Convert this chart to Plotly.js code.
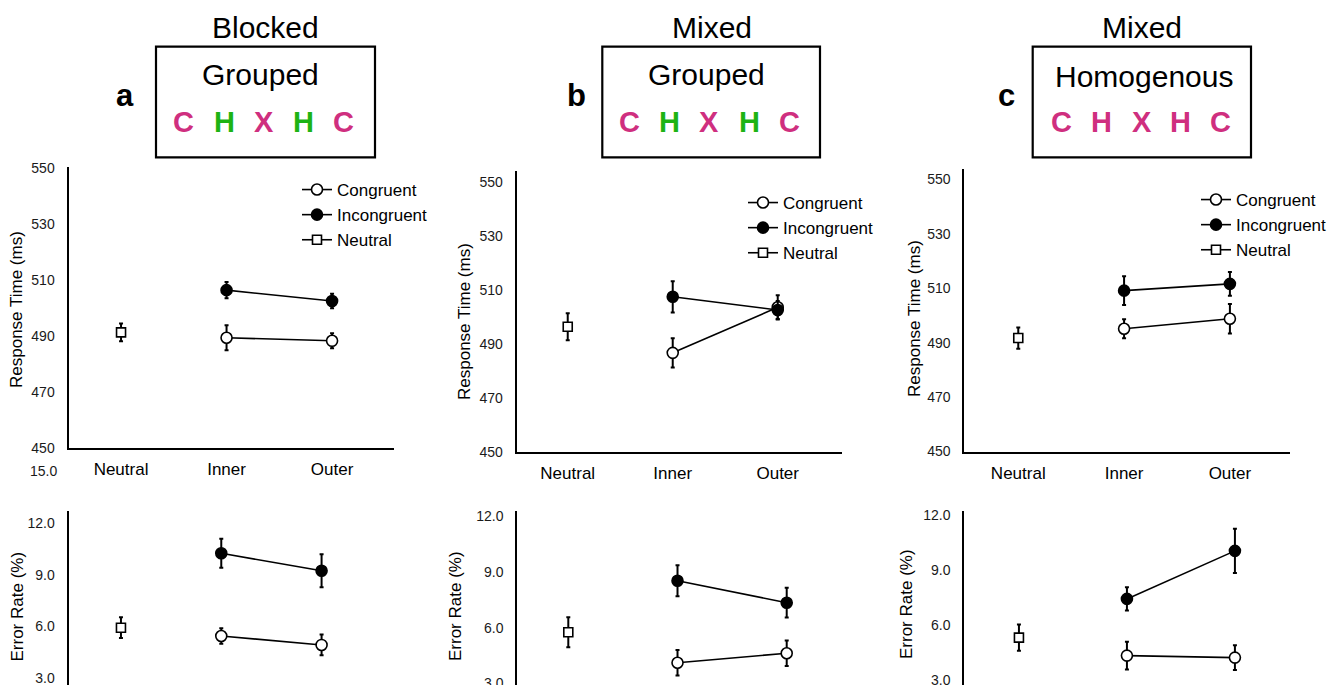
<!DOCTYPE html>
<html>
<head>
<meta charset="utf-8">
<script src="https://cdn.plot.ly/plotly-3.0.1.min.js"></script>
<style>html,body{margin:0;padding:0;background:#fff;}#chart{width:1338px;height:685px;}</style>
</head>
<body>
<div id="chart"></div>
<script>
// ---------------- DATA ----------------
const categories = ['Neutral', 'Inner', 'Outer'];
const flankerCats = ['Inner', 'Outer'];
const neutralCat = ['Neutral'];
const seriesNames = ['Congruent', 'Incongruent', 'Neutral'];

const panelLabels = ['a', 'b', 'c'];
const blockTitles = ['Blocked', 'Mixed', 'Mixed'];
const boxTitles = ['Grouped', 'Grouped', 'Homogenous'];
const stimLetters = ['C', 'H', 'X', 'H', 'C'];
const stimColorsA = ['m', 'g', 'm', 'g', 'm'];
const stimColorsB = ['m', 'g', 'm', 'g', 'm'];
const stimColorsC = ['m', 'm', 'm', 'm', 'm'];

const rtTicks = [450, 470, 490, 510, 530, 550];
const erTicks = [3, 6, 9, 12];

// Panel a (Blocked, Grouped)
const rtA_cong = [489.4, 488.3], rtA_cong_err = [4.5, 2.7];
const rtA_incong = [506.4, 502.5], rtA_incong_err = [2.9, 2.6];
const rtA_neut = [491.3], rtA_neut_err = [3.2];
const erA_cong = [5.44, 4.92], erA_cong_err = [0.45, 0.6];
const erA_incong = [10.24, 9.23], erA_incong_err = [0.84, 0.96];
const erA_neut = [5.92], erA_neut_err = [0.6];

// Panel b (Mixed, Grouped)
const rtB_cong = [486.8, 503.7], rtB_cong_err = [5.4, 4.5];
const rtB_incong = [507.6, 502.7], rtB_incong_err = [5.8, 3.3];
const rtB_neut = [496.5], rtB_neut_err = [5.0];
const erB_cong = [4.11, 4.62], erB_cong_err = [0.68, 0.68];
const erB_incong = [8.52, 7.34], erB_incong_err = [0.83, 0.8];
const erB_neut = [5.75], erB_neut_err = [0.8];

// Panel c (Mixed, Homogenous)
const rtC_cong = [495.1, 498.8], rtC_cong_err = [3.5, 5.4];
const rtC_incong = [509.1, 511.6], rtC_incong_err = [5.3, 4.4];
const rtC_neut = [491.7], rtC_neut_err = [3.9];
const erC_cong = [4.33, 4.22], erC_cong_err = [0.76, 0.67];
const erC_incong = [7.42, 10.04], erC_incong_err = [0.63, 1.2];
const erC_neut = [5.31], erC_neut_err = [0.72];

// ---------------- STYLE / LAYOUT ----------------
const W = 1338, H = 685;
const FONT = 'Liberation Sans, Arial, Helvetica, sans-serif';
const MAG = '#cf2f7f', GRN = '#1db314';
const px = v => v / W;
const py = v => 1 - v / H;

function errObj(arr) {
  return {type: 'data', array: arr, visible: true, color: '#000', thickness: 2, width: 2};
}
function mk(xs, ys, err, name, xa, ya, legendId, show) {
  const isCong = name === 'Congruent', isNeut = name === 'Neutral';
  return {
    type: 'scatter', mode: 'lines+markers', x: xs, y: ys, name: name,
    xaxis: xa, yaxis: ya, legend: legendId, showlegend: show, legendgroup: name + legendId,
    line: {color: '#000', width: 1.6},
    marker: {
      symbol: isNeut ? 'square' : 'circle',
      size: isNeut ? 9 : 11,
      color: isCong || isNeut ? '#fff' : '#000',
      line: {color: '#000', width: 1.6}
    },
    error_y: errObj(err),
    cliponaxis: false,
    hoverinfo: 'x+y'
  };
}

const panelsData = [
  {rt: [rtA_cong, rtA_incong, rtA_neut], rte: [rtA_cong_err, rtA_incong_err, rtA_neut_err],
   er: [erA_cong, erA_incong, erA_neut], ere: [erA_cong_err, erA_incong_err, erA_neut_err]},
  {rt: [rtB_cong, rtB_incong, rtB_neut], rte: [rtB_cong_err, rtB_incong_err, rtB_neut_err],
   er: [erB_cong, erB_incong, erB_neut], ere: [erB_cong_err, erB_incong_err, erB_neut_err]},
  {rt: [rtC_cong, rtC_incong, rtC_neut], rte: [rtC_cong_err, rtC_incong_err, rtC_neut_err],
   er: [erC_cong, erC_incong, erC_neut], ere: [erC_cong_err, erC_incong_err, erC_neut_err]}
];

// geometry (pixels) per panel
const geom = [
  {topX: [68.5, 394], topY: [167, 448], topXR: [-0.498, 2.587], topYR: [450, 550.4],
   botX: [68.5, 394], botY: [510.7, 685], botXR: [-0.523, 2.722], botYR: [2.593, 12.714],
   leg: [297, 172], rtTitle: [16, 310], erTitle: [16.5, 607]},
  {topX: [516.7, 842.3], topY: [170.7, 452], topXR: [-0.486, 2.615], topYR: [450, 554.4],
   botX: [517.3, 842.3], botY: [510.7, 685], botXR: [-0.467, 2.509], botYR: [2.914, 12.285],
   leg: [743, 185], rtTitle: [464, 322], erTitle: [455, 606]},
  {topX: [964.3, 1290], topY: [169.3, 451.5], topXR: [-0.51, 2.568], topYR: [450, 553.7],
   botX: [964.3, 1290], botY: [510.7, 685], botXR: [-0.506, 2.51], botYR: [2.727, 12.23],
   leg: [1196, 182], rtTitle: [915, 319], erTitle: [906, 604]}
];

const traces = [];
const layout = {
  width: W, height: H, margin: {l: 0, r: 0, t: 0, b: 0},
  paper_bgcolor: '#fff', plot_bgcolor: 'rgba(0,0,0,0)',
  font: {family: FONT, color: '#000'},
  showlegend: true, annotations: [], shapes: []
};

const legendIds = ['legend', 'legend2', 'legend3'];
for (let p = 0; p < 3; p++) {
  const g = geom[p], d = panelsData[p];
  const ti = 2 * p + 1, bi = 2 * p + 2;
  const xaT = 'x' + ti, yaT = 'y' + ti, xaB = 'x' + bi, yaB = 'y' + bi;
  const lid = legendIds[p];
  // RT traces
  traces.push(mk(flankerCats, d.rt[0], d.rte[0], seriesNames[0], xaT, yaT, lid, true));
  traces.push(mk(flankerCats, d.rt[1], d.rte[1], seriesNames[1], xaT, yaT, lid, true));
  traces.push(mk(neutralCat, d.rt[2], d.rte[2], seriesNames[2], xaT, yaT, lid, true));
  // ER traces
  traces.push(mk(flankerCats, d.er[0], d.ere[0], seriesNames[0], xaB, yaB, lid, false));
  traces.push(mk(flankerCats, d.er[1], d.ere[1], seriesNames[1], xaB, yaB, lid, false));
  traces.push(mk(neutralCat, d.er[2], d.ere[2], seriesNames[2], xaB, yaB, lid, false));

  const kx = (ti === 1) ? 'xaxis' : 'xaxis' + ti;
  const ky = (ti === 1) ? 'yaxis' : 'yaxis' + ti;
  layout[kx] = {
    domain: [px(g.topX[0]), px(g.topX[1])], anchor: yaT, type: 'category',
    categoryorder: 'array', categoryarray: categories, range: g.topXR,
    showline: true, linecolor: '#000', linewidth: 2, showgrid: false, zeroline: false,
    ticks: '', tickfont: {size: 17, family: FONT, color: '#000'}, ticklabelstandoff: 5, fixedrange: true
  };
  layout[ky] = {
    domain: [py(g.topY[1]), py(g.topY[0])], anchor: xaT, range: g.topYR,
    tickvals: rtTicks, showline: true, linecolor: '#000', linewidth: 2, showgrid: false, zeroline: false,
    ticks: '', tickfont: {size: 14, family: FONT, color: '#1a1a1a'}, ticklabelstandoff: 9,
    ticklabeloverflow: 'allow', fixedrange: true
  };
  layout['xaxis' + bi] = {
    domain: [px(g.botX[0]), px(g.botX[1])], anchor: yaB, type: 'category',
    categoryorder: 'array', categoryarray: categories, range: g.botXR,
    visible: false, fixedrange: true
  };
  layout['yaxis' + bi] = {
    domain: [0, py(g.botY[0])], anchor: xaB, range: g.botYR,
    tickvals: erTicks, tickformat: '.1f', showline: true, linecolor: '#000', linewidth: 2,
    showgrid: false, zeroline: false,
    ticks: '', tickfont: {size: 14, family: FONT, color: '#1a1a1a'}, ticklabelstandoff: 9,
    ticklabeloverflow: 'allow', fixedrange: true
  };
  layout[lid] = {
    x: px(g.leg[0]), y: py(g.leg[1]), xanchor: 'left', yanchor: 'top',
    bgcolor: 'rgba(0,0,0,0)', borderwidth: 0, font: {size: 17, family: FONT, color: '#000'},
    itemwidth: 30, tracegroupgap: 0
  };

  // axis titles
  layout.annotations.push({xref: 'paper', yref: 'paper', x: px(g.rtTitle[0]), y: py(g.rtTitle[1]),
    text: 'Response Time (ms)', textangle: -90, showarrow: false, xanchor: 'center', yanchor: 'middle',
    font: {size: 17, family: FONT, color: '#000'}});
  layout.annotations.push({xref: 'paper', yref: 'paper', x: px(g.erTitle[0]), y: py(g.erTitle[1]),
    text: 'Error Rate (%)', textangle: -90, showarrow: false, xanchor: 'center', yanchor: 'middle',
    font: {size: 17, family: FONT, color: '#000'}});
}

// stray top tick label of panel a error axis
layout.annotations.push({xref: 'paper', yref: 'paper', x: px(58.5), y: py(471.5), text: '15.0',
  showarrow: false, xanchor: 'right', yanchor: 'middle', font: {size: 14, family: FONT, color: '#1a1a1a'}});

// headers
const hdr = [
  {label: [125, 96], block: [265.7, 27], box: [156, 46.7, 375, 157.3], boxTitle: [260, 75],
   letters: [183.3, 224, 264, 303.3, 343.3], cols: stimColorsA},
  {label: [576.7, 96], block: [711.7, 27], box: [602.3, 46.7, 820, 157.3], boxTitle: [706.7, 75],
   letters: [629.3, 669.3, 709.3, 749, 789], cols: stimColorsB},
  {label: [1006.7, 96], block: [1141.7, 27], box: [1032.7, 46.7, 1251, 157.3], boxTitle: [1144.3, 76],
   letters: [1061.7, 1101.7, 1141.7, 1180.7, 1220.7], cols: stimColorsC}
];
for (let p = 0; p < 3; p++) {
  const h = hdr[p];
  layout.annotations.push({xref: 'paper', yref: 'paper', x: px(h.label[0]), y: py(h.label[1]),
    text: '<b>' + panelLabels[p] + '</b>', showarrow: false, xanchor: 'center', yanchor: 'middle',
    font: {size: 31, family: FONT, color: '#000'}});
  layout.annotations.push({xref: 'paper', yref: 'paper', x: px(h.block[0]), y: py(h.block[1]),
    text: blockTitles[p], showarrow: false, xanchor: 'center', yanchor: 'middle',
    font: {size: 30, family: FONT, color: '#000'}});
  layout.annotations.push({xref: 'paper', yref: 'paper', x: px(h.boxTitle[0]), y: py(h.boxTitle[1]),
    text: boxTitles[p], showarrow: false, xanchor: 'center', yanchor: 'middle',
    font: {size: 30, family: FONT, color: '#000'}});
  for (let i = 0; i < stimLetters.length; i++) {
    layout.annotations.push({xref: 'paper', yref: 'paper', x: px(h.letters[i]), y: py(122),
      text: '<b>' + stimLetters[i] + '</b>', showarrow: false, xanchor: 'center', yanchor: 'middle',
      font: {size: 29, family: FONT, color: h.cols[i] === 'm' ? MAG : GRN}});
  }
  layout.shapes.push({type: 'rect', xref: 'paper', yref: 'paper',
    x0: px(h.box[0]), x1: px(h.box[2]), y0: py(h.box[3]), y1: py(h.box[1]),
    line: {color: '#000', width: 2.2}, fillcolor: 'rgba(0,0,0,0)'});
}

Plotly.newPlot('chart', traces, layout, {displayModeBar: false, staticPlot: true});
</script>
</body>
</html>
